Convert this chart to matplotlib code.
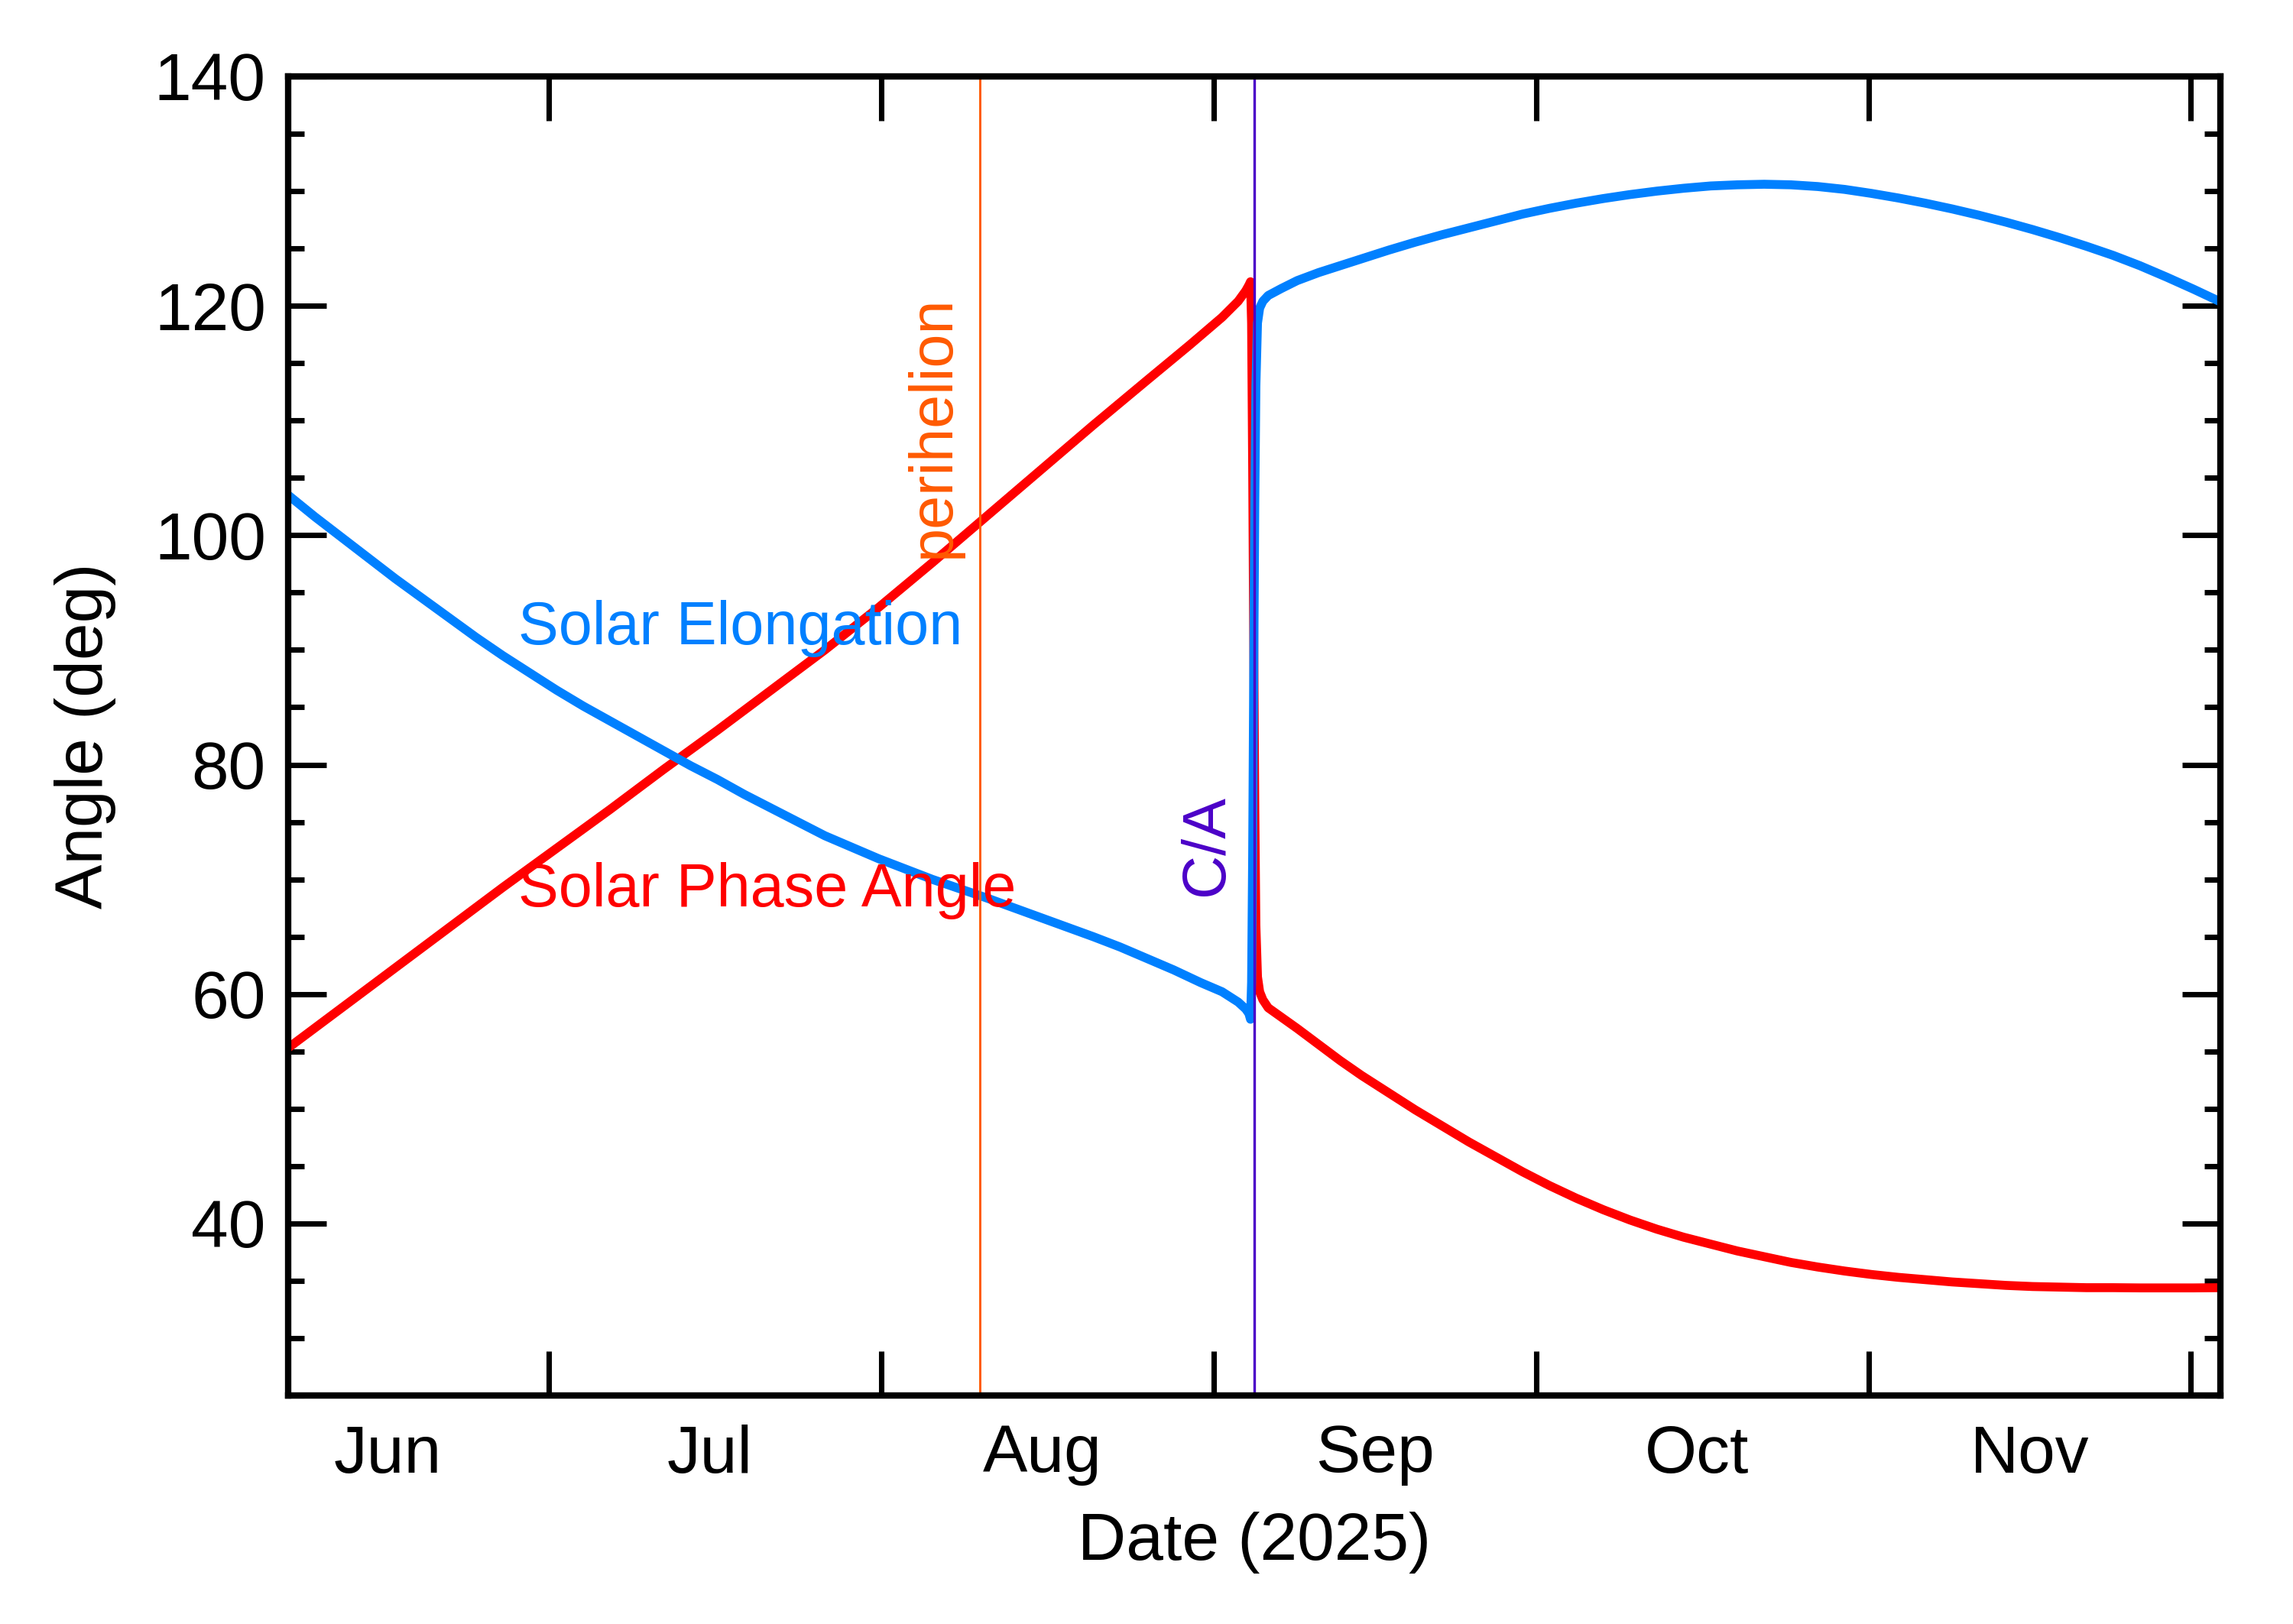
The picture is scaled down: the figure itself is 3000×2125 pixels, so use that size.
import numpy as np
import matplotlib
matplotlib.use('Agg')
import matplotlib.pyplot as plt
import matplotlib.dates as mdates
from matplotlib.ticker import MultipleLocator, NullFormatter
from datetime import datetime

plt.rcParams['font.family'] = ['Liberation Sans', 'DejaVu Sans']

# closest approach and perihelion
ca_date = datetime(2025, 9, 4, 18)
peri_date = datetime(2025, 8, 10, 4)

# solar elongation, days relative to closest approach
elong_days = [-90, -87.5, -85, -82.5, -80, -77.5, -75, -72.5, -70, -67.5, -65, -62.5,
              -60, -57.5, -55, -52.5, -50, -47.5, -45, -42.5, -40, -37.5, -35, -32.5,
              -30, -27.5, -25, -22.5, -20, -17.5, -15, -12.5, -10, -7.5, -5, -3, -1.5,
              -0.8, -0.5, -0.35, -0.25, -0.15, -0.05, 0.05, 0.15, 0.3, 0.5, 0.8, 1.3,
              2.5, 4, 6, 8, 10, 12.5, 15, 17.5, 20, 22.5, 25, 27.5, 30, 32.5, 35, 37.5,
              40, 42.5, 45, 47.5, 50, 52.5, 55, 57.5, 60, 62.5, 65, 67.5, 70, 72.5, 75,
              77.5, 80, 82.5, 85, 87.5, 90]
elongation = [103.5, 101.6, 99.8, 98.0, 96.2, 94.5, 92.8, 91.1, 89.5, 88.0, 86.5, 85.1,
              83.8, 82.5, 81.2, 79.9, 78.7, 77.4, 76.2, 75.0, 73.8, 72.8, 71.8, 70.9,
              70.0, 69.2, 68.4, 67.55, 66.7, 65.85, 65.0, 64.1, 63.1, 62.1, 61.0, 60.2,
              59.3, 58.7, 58.3, 57.8, 61.0, 72.0, 88.0, 103.0, 113.0, 118.5, 119.8, 120.4,
              120.9, 121.5, 122.2, 122.9, 123.5, 124.1, 124.85, 125.55, 126.2, 126.8,
              127.4, 128.0, 128.5, 128.95, 129.35, 129.7, 130.0, 130.25, 130.45, 130.55,
              130.6, 130.55, 130.4, 130.15, 129.8, 129.4, 128.95, 128.45, 127.9, 127.3,
              126.65, 125.95, 125.2, 124.4, 123.5, 122.5, 121.45, 120.35]

# solar phase angle, days relative to closest approach
phase_days = [-90, -85, -80, -75, -70, -65, -60, -55, -50, -45, -40, -35, -30, -25, -20,
              -15, -10, -6, -3, -1.5, -0.8, -0.5, -0.35, -0.25, -0.15, -0.05, 0.05, 0.15,
              0.3, 0.5, 0.8, 1.3, 2.5, 4, 6, 8, 10, 12.5, 15, 17.5, 20, 22.5, 25, 27.5,
              30, 32.5, 35, 37.5, 40, 42.5, 45, 47.5, 50, 52.5, 55, 57.5, 60, 62.5, 65,
              67.5, 70, 72.5, 75, 77.5, 80, 82.5, 85, 87.5, 90]
phase_angle = [55.3, 58.8, 62.3, 65.8, 69.3, 72.7, 76.1, 79.6, 83.0, 86.5, 90.0, 93.7,
               97.6, 101.6, 105.6, 109.6, 113.5, 116.6, 119.0, 120.4, 121.3, 121.8, 122.1,
               118.5, 106.0, 91.0, 76.0, 66.0, 61.5, 60.2, 59.5, 58.8, 58.0, 57.0, 55.6,
               54.2, 52.9, 51.4, 49.9, 48.5, 47.1, 45.8, 44.5, 43.3, 42.2, 41.2, 40.3,
               39.5, 38.8, 38.2, 37.6, 37.1, 36.6, 36.2, 35.85, 35.55, 35.3, 35.1, 34.9,
               34.75, 34.6, 34.5, 34.45, 34.4, 34.4, 34.38, 34.38, 34.38, 34.4]

ca = mdates.date2num(ca_date)
peri = mdates.date2num(peri_date)

fig = plt.figure(figsize=(10, 2125 / 300), dpi=300)
ax = fig.add_axes([377 / 3000, 1 - 1826 / 2125, (2905 - 377) / 3000, (1826 - 100) / 2125])

ax.plot(ca + np.array(phase_days), phase_angle, color='#FF0000', lw=2.8)
ax.plot(ca + np.array(elong_days), elongation, color='#0080FF', lw=2.8)
ax.axvline(peri, color='#FF5A00', lw=0.7)
ax.axvline(ca, color='#4B00C8', lw=0.8)

ax.set_xlim(ca - 90, ca + 90)
ax.set_ylim(25, 140)

ax.xaxis.set_major_locator(mdates.MonthLocator())
ax.xaxis.set_major_formatter(NullFormatter())
ax.xaxis.set_minor_locator(mdates.MonthLocator(bymonthday=16))
ax.xaxis.set_minor_formatter(mdates.DateFormatter('%b'))
ax.tick_params(axis='x', which='major', direction='in', length=14, width=1.7,
               top=True, bottom=True)
ax.tick_params(axis='x', which='minor', length=0, labelsize=21, pad=9)

ax.yaxis.set_major_locator(MultipleLocator(20))
ax.yaxis.set_minor_locator(MultipleLocator(5))
ax.tick_params(axis='y', which='major', direction='in', length=12, width=1.7,
               left=True, right=True, labelsize=21, pad=7)
ax.tick_params(axis='y', which='minor', direction='in', length=5, width=1.7,
               left=True, right=True)

for s in ax.spines.values():
    s.set_linewidth(2.0)

ax.set_xlabel('Date (2025)', fontsize=21, labelpad=8)
ax.set_ylabel('Angle (deg)', fontsize=21, labelpad=12)

ax.text(ca - 68.6, 90.5, 'Solar Elongation', color='#0080FF', fontsize=19,
        ha='left', va='baseline')
ax.text(ca - 68.6, 67.65, 'Solar Phase Angle', color='#FF0000', fontsize=19,
        ha='left', va='baseline')
ax.annotate('perihelion', xy=(peri, 98.0), xytext=(-9.6, 0), textcoords='offset points',
            rotation=90, rotation_mode='anchor', ha='left', va='baseline',
            color='#FF5A00', fontsize=19)
ax.annotate('C/A', xy=(ca, 68.6), xytext=(-9.8, 0), textcoords='offset points',
            rotation=90, rotation_mode='anchor', ha='left', va='baseline',
            color='#4B00C8', fontsize=19)

fig.savefig('out.png', dpi=300)
